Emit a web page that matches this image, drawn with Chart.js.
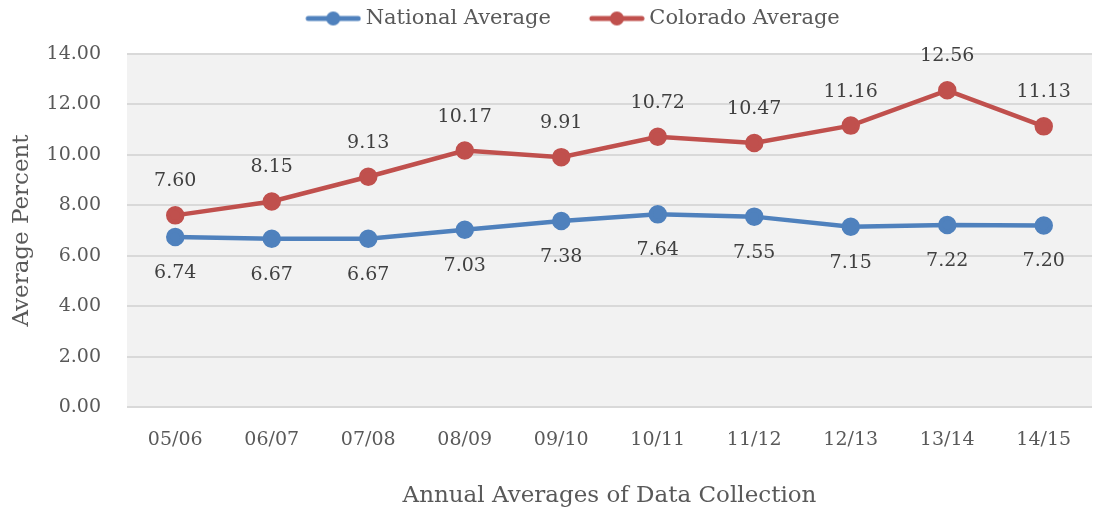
<!DOCTYPE html>
<html>
<head>
<meta charset="utf-8">
<script src="https://cdn.jsdelivr.net/npm/chart.js@4/dist/chart.umd.min.js"></script>
<style>
  html, body { margin: 0; padding: 0; background: #fff; }
  #wrap { width: 1105px; height: 514px; }
</style>
</head>
<body>
<div id="wrap"><canvas id="chart" width="1105" height="514"></canvas></div>
<script>
const years = ['05/06', '06/07', '07/08', '08/09', '09/10', '10/11', '11/12', '12/13', '13/14', '14/15'];
const nationalAvg = [6.74, 6.67, 6.67, 7.03, 7.38, 7.64, 7.55, 7.15, 7.22, 7.20];
const coloradoAvg = [7.60, 8.15, 9.13, 10.17, 9.91, 10.72, 10.47, 11.16, 12.56, 11.13];
const yTicks = [0, 2, 4, 6, 8, 10, 12, 14];

const BLUE = '#4f81bd';
const RED = '#c0504d';
const FONT = "'DejaVu Serif', serif";
const TEXT = '#595959';

// legend marker: line with a dot; blank space on the left acts as the item gap,
// and the canvas is a bit wider than the box so the line sits close to the text
function legendIcon(color) {
  const c = document.createElement('canvas');
  c.width = 92; c.height = 16;
  const g = c.getContext('2d');
  g.strokeStyle = color;
  g.lineWidth = 5;
  g.lineCap = 'round';
  g.beginPath(); g.moveTo(39, 8); g.lineTo(89, 8); g.stroke();
  g.fillStyle = color;
  g.beginPath(); g.arc(64, 8, 7, 0, Math.PI * 2); g.fill();
  return c;
}

// grey plot background
const plotBg = {
  id: 'plotBg',
  beforeDraw(chart) {
    const a = chart.chartArea;
    const c = chart.ctx;
    c.save();
    c.fillStyle = '#f2f2f2';
    c.fillRect(a.left, a.top, a.right - a.left, a.bottom - a.top);
    c.restore();
  }
};

// give the legend some extra room below it
const legendGap = {
  id: 'legendGap',
  beforeLayout(chart) {
    const lg = chart.legend;
    if (lg && !lg._gapPatched) {
      const fit = lg.fit;
      lg.fit = function () {
        fit.call(this);
        this.height += 15;
      };
      lg._gapPatched = true;
    }
  }
};

// value labels: colorado above, national below
const valueLabels = {
  id: 'valueLabels',
  afterDatasetsDraw(chart) {
    const c = chart.ctx;
    c.save();
    c.font = '19px ' + FONT;
    c.fillStyle = '#404040';
    c.textAlign = 'center';
    c.textBaseline = 'middle';
    chart.data.datasets.forEach((ds, i) => {
      const meta = chart.getDatasetMeta(i);
      const off = ds.labelPos === 'above' ? -34 : 36;
      meta.data.forEach((pt, j) => {
        c.fillText(ds.data[j].toFixed(2), pt.x, pt.y + off);
      });
    });
    c.restore();
  }
};

new Chart(document.getElementById('chart'), {
  type: 'line',
  data: {
    labels: years,
    datasets: [
      {
        label: 'National Average',
        data: nationalAvg,
        borderColor: BLUE,
        backgroundColor: BLUE,
        borderWidth: 4.5,
        pointRadius: 7,
        pointHoverRadius: 7,
        labelPos: 'below'
      },
      {
        label: 'Colorado Average',
        data: coloradoAvg,
        borderColor: RED,
        backgroundColor: RED,
        borderWidth: 4.5,
        pointRadius: 7,
        pointHoverRadius: 7,
        labelPos: 'above'
      }
    ]
  },
  options: {
    responsive: false,
    animation: false,
    layout: { padding: { left: 23, right: 13, top: 0, bottom: 0 } },
    elements: { line: { tension: 0 } },
    plugins: {
      legend: {
        position: 'top',
        labels: {
          usePointStyle: true,
          pointStyleWidth: 80,
          boxHeight: 14,
          font: { family: FONT, size: 21 },
          color: TEXT,
          padding: 8,
          generateLabels(chart) {
            return Chart.defaults.plugins.legend.labels.generateLabels(chart).map(item => {
              item.pointStyle = legendIcon(chart.data.datasets[item.datasetIndex].borderColor);
              return item;
            });
          }
        }
      },
      tooltip: { enabled: false }
    },
    scales: {
      x: {
        offset: true,
        grid: { display: false, drawTicks: false },
        border: { display: false },
        ticks: { font: { family: FONT, size: 19 }, color: TEXT, padding: 22 },
        title: {
          display: true,
          text: 'Annual Averages of Data Collection',
          font: { family: FONT, size: 23 },
          color: TEXT,
          padding: { top: 28 }
        },
        afterFit(s) { s.height = 107; }
      },
      y: {
        min: 0,
        max: 14,
        afterBuildTicks(s) { s.ticks = yTicks.map(v => ({ value: v })); },
        grid: { color: '#d9d9d9', lineWidth: 2, drawTicks: false },
        border: { display: false },
        ticks: {
          font: { family: FONT, size: 19 },
          color: TEXT,
          padding: 26,
          callback: v => v.toFixed(2)
        },
        title: {
          display: true,
          text: 'Average Percent',
          font: { family: FONT, size: 23 },
          color: TEXT,
          padding: { top: -15, bottom: 0 }
        },
        afterFit(s) { s.width = 104; }
      }
    }
  },
  plugins: [plotBg, legendGap, valueLabels]
});
</script>
</body>
</html>
